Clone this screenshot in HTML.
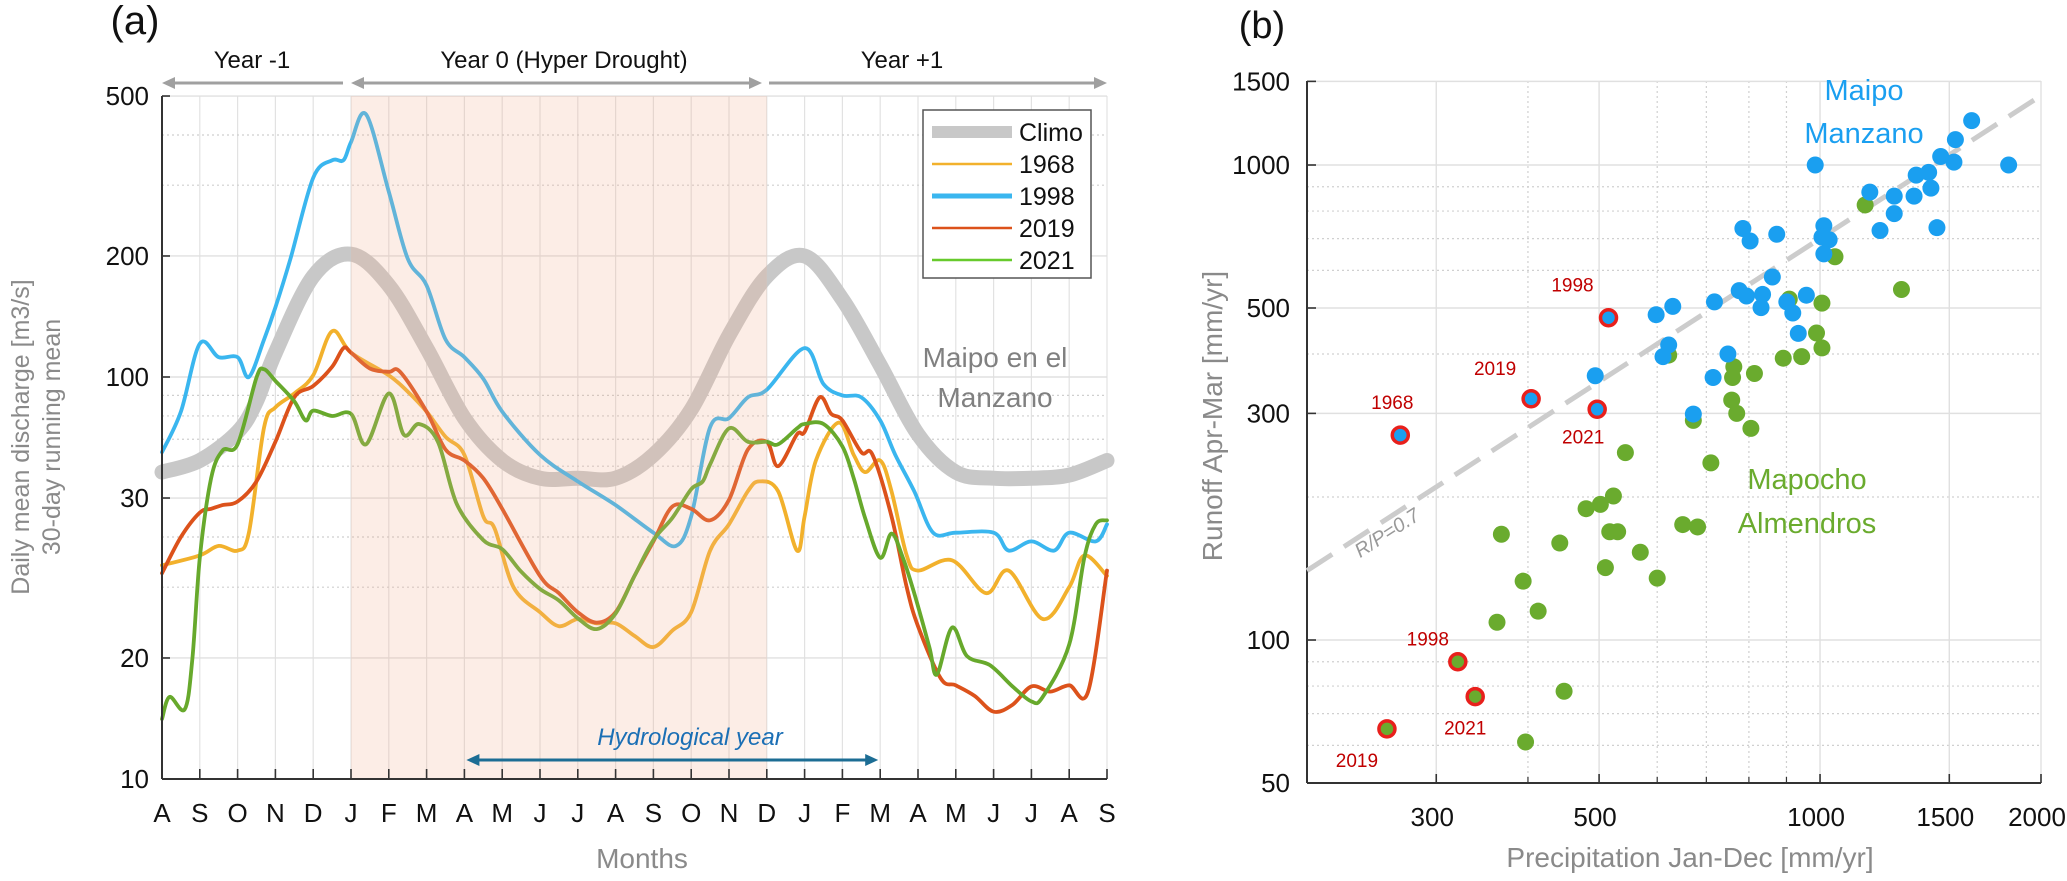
<!DOCTYPE html>
<html><head><meta charset="utf-8"><style>
html,body{margin:0;padding:0;background:#fff}
svg{display:block}
text{font-family:"Liberation Sans",sans-serif}
.nar{font-family:"Liberation Sans Narrow","Liberation Sans",sans-serif}
</style></head><body>
<svg id="fig" width="2067" height="881" viewBox="0 0 2067 881" xmlns="http://www.w3.org/2000/svg">
<g id="pa"></g>
<g id="pb"></g>
</svg>
<script>
// ===== Panel (a) data =====
const monthLabels = ["A","S","O","N","D","J","F","M","A","M","J","J","A","S","O","N","D","J","F","M","A","M","J","J","A","S"];
const yTickValues = [500,200,100,50,20,10];
const yTickLabels = ["500","200","100","30","20","10"];
const yMinorValues = [400,300,90,80,70,60,40,30];
const climoT = [0,1,2,2.5,3,4,5,6,7,8,9,10,11,12,13,14,15,16,17,18,19,20,21,22,23,24,25];
const climoV = [58,62,73,87,115,178,202,169,118,79,62,56,56,56,64,83,127,178,200,156,107,72,58,56,56,57,62];
const y1968T = [0,1,1.5,2,2.3,2.7,3,3.5,4,4.5,5,6,6.5,7,7.5,8,8.5,8.8,9.3,10,10.5,11,11.5,12,12.5,13,13.5,14,14.5,15,15.5,15.8,16.3,16.8,17,17.3,17.9,18.3,18.6,19,19.3,19.7,20,20.9,21.8,22.4,23.3,24,24.4,25];
const y1968V = [34,36,38,37,41,75,84,91,101,130,115,101,92,82,71,64,45,42,30,26,24,25,24.4,24.4,22.7,21.3,23.4,26,37,43,52,55,52,37,45,62,77,64,58,62,52,36,33,35,29,33,25,30,36,32];
const y1998T = [0,0.5,1,1.5,2,2.3,2.7,3,3.4,4,4.5,4.8,5,5.4,6,6.5,7,7.5,8,8.5,9,10,11,12,13,13.6,14,14.5,15,15.5,16,17,17.5,18,18.5,19,19.4,19.9,20.4,21,22,22.4,23,23.6,24,24.7,25];
const y1998V = [65,82,121,112,112,100,124,149,197,313,346,346,384,450,289,197,169,124,112,99,82,64,55,48,41,38,45,75,79,89,93,118,96,90,89,78,64,52,41,41,41,37,39,37,41,39,43];
const y2019T = [0,0.5,1,1.3,1.6,2,2.5,3,3.5,4,4.5,4.8,5,5.5,6,6.3,7,7.5,8,8.5,9,10,10.5,11,11.5,12,12.5,13,13.5,14,14.5,15,15.5,16,16.3,16.8,17,17.4,17.7,18,18.5,18.8,19.3,19.7,20,20.6,21,21.5,22,22.5,23,23.5,24,24.5,25];
const y2019V = [32.5,40,46,47,48,49,55,69,89,95,106,118,115,105,103,103,82,66,62,56,47,32,29,26,24.5,26,32,39,47.6,47,44,49.5,66,69,60,72,73,89,81,78,65,64,45,30,24,17.8,17.1,16.1,14.7,15.3,17,16.5,17.1,16.5,33];
const y2021T = [0,0.2,0.6,0.8,1,1.3,1.6,2,2.5,2.7,3,3.5,3.8,4,4.5,5,5.4,6,6.4,6.8,7.3,7.8,8.5,9,9.5,10,10.5,11,11.5,12,12.5,13,13.5,14,14.3,14.5,15,15.5,16,16.3,16.8,17,17.5,18,18.3,18.6,19,19.3,19.6,19.9,20.3,20.5,20.9,21.3,21.9,22.5,23,23.3,24,24.4,24.7,25];
const y2021V = [14.1,16,14.9,19.7,35.5,56,65.6,68,99.7,104.5,97.8,87,78,82.5,80,81,68,91,71.8,76.4,69,48.3,39.3,37.3,32.8,29.7,27.8,25.1,23.6,25.8,32,39.3,44.6,52.6,54.9,60.6,74.5,69,69,68,74.5,76.4,76.4,67.2,56,44.6,35.5,40.8,35.5,29,21.3,18.2,23.8,20.2,19.2,17,15.6,16,21.6,35.5,43,44];
const legendNames = ["Climo","1968","1998","2019","2021"];

// ===== Panel (b) data =====
const xTickValuesB = [300,500,1000,1500,2000];
const yTickValuesB = [1500,1000,500,300,100,50];
const xMinorB = [400,600,700,800,900];
const yMinorB = [200,400,600,700,800,900,60,70,80,90];
const maipoP = [1609,1529,1460,1522,1807,985,1352,1406,1416,1343,1262,1169,1262,1207,1443,1012,1006,1029,1012,785,803,873,861,776,794,835,831,958,901,918,934,718,630,598,622,611,749,715,672,494];
const maipoR = [1240,1131,1042,1014,1000,1000,952,965,894,860,860,877,790,728,738,745,705,696,650,735,692,715,581,544,530,534,501,532,515,488,442,515,504,484,418,395,400,357,299,360];
const mapochoP = [1152,1048,1291,908,1006,989,1006,891,944,763,814,760,622,758,770,805,672,710,543,523,502,480,517,530,650,681,569,510,600,442,368,394,413,363,448,397];
const mapochoR = [824,641,547,522,512,443,412,392,395,376,364,357,398,320,300,279,290,236,248,201,193,189,169,169,175,173,153,142,135,160,167,133,115,109,78,61];
const hiMaipoYears = ["1998","2019","1968","2021"];
const hiMaipoP = [515,404,268,497];
const hiMaipoR = [477,322,270,306];
const hiMapochoYears = ["1998","2021","2019"];
const hiMapochoP = [321,339,257];
const hiMapochoR = [90,76,65];
const ratioRP = 0.7;

const NS = "http://www.w3.org/2000/svg";
function mk(parent, tag, attrs, txt){
  const e = document.createElementNS(NS, tag);
  for (const k in attrs) e.setAttribute(k, attrs[k]);
  if (txt !== undefined) e.textContent = txt;
  parent.appendChild(e);
  return e;
}
function smoothPath(pts){
  let d = "M" + pts[0][0].toFixed(1) + "," + pts[0][1].toFixed(1);
  for (let i = 0; i < pts.length - 1; i++){
    const p0 = pts[i-1] || pts[i], p1 = pts[i], p2 = pts[i+1], p3 = pts[i+2] || p2;
    const c1x = p1[0] + (p2[0]-p0[0])/6, c1y = p1[1] + (p2[1]-p0[1])/6;
    const c2x = p2[0] - (p3[0]-p1[0])/6, c2y = p2[1] - (p3[1]-p1[1])/6;
    d += " C" + c1x.toFixed(1)+","+c1y.toFixed(1)+" "+c2x.toFixed(1)+","+c2y.toFixed(1)+" "+p2[0].toFixed(1)+","+p2[1].toFixed(1);
  }
  return d;
}

// ===== Panel (a) =====
(function(){
  const g = document.getElementById("pa");
  const X0 = 162, DX = 37.8, Y10 = 779, DEC = 402, YTOP = 96;
  const X1 = X0 + 25*DX;
  const xs = t => X0 + t*DX;
  const ys = v => Y10 - DEC*Math.log10(v/10);

  let e;
  e = mk(g,"text",{x:135,y:34,"font-size":40,"text-anchor":"middle",fill:"#111"},"(a)");
   

  // grid
  for (let i = 0; i < monthLabels.length; i++){
    e = mk(g,"line",{x1:xs(i),x2:xs(i),y1:YTOP,y2:Y10,stroke:"#e2e2e2","stroke-width":1.2});
     
  }
  yMinorValues.forEach(v=>{
    e = mk(g,"line",{x1:X0,x2:X1,y1:ys(v),y2:ys(v),stroke:"#cfcfcf","stroke-width":1.2,"stroke-dasharray":"2,3"});
     
  });
  yTickValues.forEach(v=>{
    e = mk(g,"line",{x1:X0,x2:X1,y1:ys(v),y2:ys(v),stroke:"#e0e0e0","stroke-width":1.4});
     
  });

  // climo
  const series = [
    {t:climoT,v:climoV,c:"#c8c8c8",w:15,n:"climo-line"},
    {t:y1998T,v:y1998V,c:"#3ab6ef",w:3.8,n:"line-1998"},
    {t:y1968T,v:y1968V,c:"#f2b12c",w:3.8,n:"line-1968"},
    {t:y2019T,v:y2019V,c:"#dc521b",w:3.8,n:"line-2019"},
    {t:y2021T,v:y2021V,c:"#67a92c",w:3.8,n:"line-2021"}
  ];
  series.forEach(s=>{
    const pts = s.t.map((t,i)=>[xs(t), ys(s.v[i])]);
    e = mk(g,"path",{d:smoothPath(pts),fill:"none",stroke:s.c,"stroke-width":s.w,"stroke-linejoin":"round","stroke-linecap":"round"});
     
  });

  // shade (hyper drought year)
  e = mk(g,"rect",{x:xs(5),y:YTOP,width:xs(16)-xs(5),height:Y10-YTOP,fill:"rgb(240,175,140)","fill-opacity":0.22});
   

  // axes
  e = mk(g,"line",{x1:X0,x2:X0,y1:YTOP,y2:Y10,stroke:"#333","stroke-width":2});
   
  e = mk(g,"line",{x1:X0,x2:X1,y1:Y10,y2:Y10,stroke:"#333","stroke-width":2});
   
  for (let i = 0; i < monthLabels.length; i++){
    e = mk(g,"line",{x1:xs(i),x2:xs(i),y1:Y10,y2:Y10-10,stroke:"#333","stroke-width":1.6});
     
    e = mk(g,"text",{x:xs(i),y:822,"font-size":26,"text-anchor":"middle",fill:"#111","class":"nar"},monthLabels[i]);
     
  }
  yTickValues.forEach((v,i)=>{
    e = mk(g,"line",{x1:X0,x2:X0+8,y1:ys(v),y2:ys(v),stroke:"#333","stroke-width":1.6});
     
    e = mk(g,"text",{x:149,y:ys(v)+9,"font-size":26,"text-anchor":"end",fill:"#111","class":"nar"},yTickLabels[i]);
     
  });

  // axis titles
  e = mk(g,"text",{x:0,y:0,"font-size":25,"text-anchor":"middle",fill:"#8a8a8a",transform:"translate(29,437) rotate(-90)"},"Daily mean discharge [m3/s]");
   
  e = mk(g,"text",{x:0,y:0,"font-size":25,"text-anchor":"middle",fill:"#8a8a8a",transform:"translate(60,437) rotate(-90)"},"30-day running mean");
   
  e = mk(g,"text",{x:642,y:868,"font-size":28,"text-anchor":"middle",fill:"#8a8a8a","class":"nar"},"Months");
   

  // period arrows
  function arrow(x1,x2,y,c,w,left,right,name){
    const gg = mk(g,"g",{});
     
    mk(gg,"line",{x1:x1+(left?8:0),x2:x2-(right?8:0),y1:y,y2:y,stroke:c,"stroke-width":w});
    if (left) mk(gg,"polygon",{points:`${x1},${y} ${x1+13},${y-6} ${x1+13},${y+6}`,fill:c});
    if (right) mk(gg,"polygon",{points:`${x2},${y} ${x2-13},${y-6} ${x2-13},${y+6}`,fill:c});
  }
  arrow(162,343,83,"#a0a0a0",3,true,false,"year-minus1-arrow");
  arrow(351,762,83,"#a0a0a0",3,true,true,"year0-arrow");
  arrow(769,1107,83,"#a0a0a0",3,false,true,"year-plus1-arrow");
  e = mk(g,"text",{x:252,y:68,"font-size":24,"text-anchor":"middle",fill:"#111","class":"nar"},"Year -1");
   
  e = mk(g,"text",{x:564,y:68,"font-size":24,"text-anchor":"middle",fill:"#111","class":"nar"},"Year 0 (Hyper Drought)");
   
  e = mk(g,"text",{x:902,y:68,"font-size":24,"text-anchor":"middle",fill:"#111","class":"nar"},"Year +1");
   

  arrow(xs(8)+2,xs(19)-2,760,"#1c6d94",3,true,true,"hydrological-year-arrow");
  e = mk(g,"text",{x:690,y:745,"font-size":24,"text-anchor":"middle",fill:"#1b6fb5","font-style":"italic","class":"nar"},"Hydrological year");
   

  e = mk(g,"text",{x:995,y:367,"font-size":28,"text-anchor":"middle",fill:"#808080"},"Maipo en el");
   
  e = mk(g,"text",{x:995,y:407,"font-size":28,"text-anchor":"middle",fill:"#808080"},"Manzano");
   

  // legend
  const lg = mk(g,"g",{});
   
  mk(lg,"rect",{x:923,y:110,width:168,height:168,fill:"#fff",stroke:"#555","stroke-width":1.5});
  const lcol = ["#c8c8c8","#f2b12c","#3ab6ef","#dc521b","#67ca2c"];
  const lw = [12,2.5,5,2.5,2.5];
  legendNames.forEach((n,i)=>{
    const y = 132 + i*32;
    const it = mk(lg,"g",{});
     
    mk(it,"line",{x1:932,x2:1012,y1:y,y2:y,stroke:lcol[i],"stroke-width":lw[i]});
    mk(it,"text",{x:1019,y:y+9,"font-size":25,fill:"#111"},n);
  });
})();

// ===== Panel (b) =====
(function(){
  const g = document.getElementById("pb");
  const XL = 1307, XR = 2041, YB = 783, YT = 81;
  const XDEC = (XR-XL), YDEC = 475;
  const xs = p => XL + XDEC*Math.log10(p/200);
  const ys = r => YB - YDEC*Math.log10(r/50);
  let e;
  e = mk(g,"text",{x:1262,y:38,"font-size":38,"text-anchor":"middle",fill:"#111"},"(b)");
   

  xMinorB.forEach(v=>{
    e = mk(g,"line",{x1:xs(v),x2:xs(v),y1:YT,y2:YB,stroke:"#d0d0d0","stroke-width":1.2,"stroke-dasharray":"2,3"});
     
  });
  yMinorB.forEach(v=>{
    e = mk(g,"line",{x1:XL,x2:XR,y1:ys(v),y2:ys(v),stroke:"#d0d0d0","stroke-width":1.2,"stroke-dasharray":"2,3"});
     
  });
  xTickValuesB.forEach(v=>{
    e = mk(g,"line",{x1:xs(v),x2:xs(v),y1:YT,y2:YB,stroke:"#e0e0e0","stroke-width":1.4});
     
    e = mk(g,"line",{x1:xs(v),x2:xs(v),y1:YB,y2:YB-9,stroke:"#333","stroke-width":1.6});
     
    e = mk(g,"text",{x:xs(v)-4,y:826,"font-size":26,"text-anchor":"middle",fill:"#111","class":"nar"},String(v));
     
  });
  xMinorB.forEach(v=>{
    e = mk(g,"line",{x1:xs(v),x2:xs(v),y1:YB,y2:YB-6,stroke:"#333","stroke-width":1.2});
     
  });
  yTickValuesB.forEach(v=>{
    e = mk(g,"line",{x1:XL,x2:XR,y1:ys(v),y2:ys(v),stroke:"#e0e0e0","stroke-width":1.4});
     
    e = mk(g,"line",{x1:XL,x2:XL+9,y1:ys(v),y2:ys(v),stroke:"#333","stroke-width":1.6});
     
    e = mk(g,"text",{x:1290,y:ys(v)+9,"font-size":26,"text-anchor":"end",fill:"#111","class":"nar"},String(v));
     
  });
  e = mk(g,"line",{x1:XL,x2:XL,y1:YT,y2:YB,stroke:"#333","stroke-width":2});
   
  e = mk(g,"line",{x1:XL,x2:XR,y1:YB,y2:YB,stroke:"#333","stroke-width":2});
   

  // ratio line
  e = mk(g,"line",{x1:xs(200),y1:ys(200*ratioRP),x2:xs(2000),y2:ys(2000*ratioRP),stroke:"#cccccc","stroke-width":5,"stroke-dasharray":"30,14"});
   
  const rx = xs(260), ry = ys(260*ratioRP)+22;
  const ang = Math.atan2(ys(2000)-ys(200), xs(2000)-xs(200))*180/Math.PI;
  e = mk(g,"text",{x:0,y:0,"font-size":20,"text-anchor":"middle",fill:"#999","font-style":"italic",transform:`translate(${rx},${ry}) rotate(${ang})`},"R/P=0.7");
   

  // points
  mapochoP.forEach((p,i)=>{
    e = mk(g,"circle",{cx:xs(p),cy:ys(mapochoR[i]),r:8.5,fill:"#6aab2e"});
     
  });
  maipoP.forEach((p,i)=>{
    e = mk(g,"circle",{cx:xs(p),cy:ys(maipoR[i]),r:8.5,fill:"#1a9ff0"});
     
  });
  const hiOffM = [[-36,-26],[-36,-24],[-8,-26],[-14,34]];
  hiMaipoP.forEach((p,i)=>{
    e = mk(g,"circle",{cx:xs(p),cy:ys(hiMaipoR[i]),r:8,fill:"#1a9ff0",stroke:"#e8201c","stroke-width":3.5});
     
    e = mk(g,"text",{x:xs(p)+hiOffM[i][0],y:ys(hiMaipoR[i])+hiOffM[i][1],"font-size":19,"text-anchor":"middle",fill:"#c00000","class":"nar"},hiMaipoYears[i]);
     
  });
  const hiOffG = [[-30,-16],[-10,38],[-30,38]];
  hiMapochoP.forEach((p,i)=>{
    e = mk(g,"circle",{cx:xs(p),cy:ys(hiMapochoR[i]),r:8,fill:"#6aab2e",stroke:"#e8201c","stroke-width":3.5});
     
    e = mk(g,"text",{x:xs(p)+hiOffG[i][0],y:ys(hiMapochoR[i])+hiOffG[i][1],"font-size":19,"text-anchor":"middle",fill:"#c00000","class":"nar"},hiMapochoYears[i]);
     
  });

  e = mk(g,"text",{x:1864,y:100,"font-size":29,"text-anchor":"middle",fill:"#1a9ff0"},"Maipo");
   
  e = mk(g,"text",{x:1864,y:143,"font-size":29,"text-anchor":"middle",fill:"#1a9ff0"},"Manzano");
   
  e = mk(g,"text",{x:1807,y:489,"font-size":29,"text-anchor":"middle",fill:"#6aab2e"},"Mapocho");
   
  e = mk(g,"text",{x:1807,y:533,"font-size":29,"text-anchor":"middle",fill:"#6aab2e"},"Almendros");
   

  e = mk(g,"text",{x:0,y:0,"font-size":28,"text-anchor":"middle",fill:"#8a8a8a",transform:"translate(1222,416) rotate(-90)"},"Runoff Apr-Mar [mm/yr]");
   
  e = mk(g,"text",{x:1690,y:867,"font-size":28,"text-anchor":"middle",fill:"#8a8a8a"},"Precipitation Jan-Dec [mm/yr]");
   
})();
</script>
</body></html>
